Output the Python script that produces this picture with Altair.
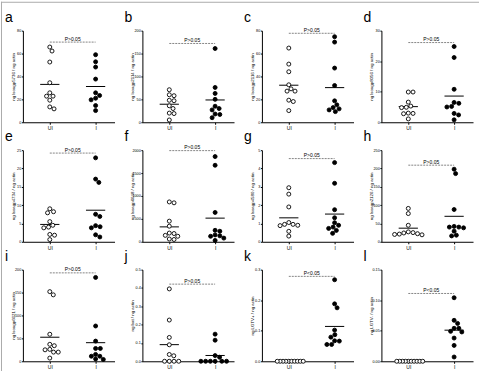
import altair as alt
import pandas as pd

FONT = "Liberation Sans"

letters = ["a", "b", "c", "d", "e", "f", "g", "h", "i", "j", "k", "l"]
y_titles = [
    "ng lsoagp5736 / ng actin", "ng lsoagp2114 / ng actin",
    "ng lsoagp2116 / ng actin", "ng lsoagp8056 / ng actin",
    "ng lsoagp4734 / ng actin", "ng lsoagp6648 / ng actin",
    "ng lsoagp4580 / ng actin", "ng lsoagp2126 / ng actin",
    "ng lsoagp6621 / ng actin", "ng bat / ng actin",
    "ng LGTV+ / ng actin", "ng LGTV- / ng actin",
]
groups = ["UI", "I"]

a_ui = [65.7, 62.2, 52.6, 34.5, 25.7, 22.8, 22.8, 19.3, 13.4, 11.7]
a_i = [59.0, 52.8, 48.2, 37.7, 25.7, 23.4, 21.0, 19.6, 14.6, 10.2]
b_ui = [71, 60, 58, 48, 47, 36, 30, 20, 19, 5]
b_i = [161, 76, 63, 50, 35, 30, 27, 18, 17, 10]
c_ui = [64.8, 50.8, 44.1, 32.7, 29.2, 27.2, 27.2, 19.3, 18.1, 10.2]
c_i = [74.7, 70.0, 47.3, 32.1, 18.7, 15.2, 12.8, 11.7, 10.8, 9.3]
d_ui = [9.9, 9.9, 6.6, 5.3, 4.9, 4.8, 3.0, 2.9, 2.8, 1.1]
d_i = [24.8, 21.2, 10.8, 6.5, 6.2, 5.2, 5.0, 2.9, 2.4, 0.8]
e_ui = [9.0, 8.2, 7.9, 5.5, 4.5, 4.0, 3.8, 2.0, 1.8, 0.6]
e_i = [22.9, 17.1, 16.2, 7.5, 6.9, 4.4, 4.1, 3.8, 1.9, 1.3]
f_ui = [870, 850, 450, 340, 190, 180, 140, 120, 60, 50]
f_i = [1860, 1670, 640, 250, 230, 150, 130, 120, 80, 30]
g_ui = [2.95, 2.6, 1.9, 1.05, 0.95, 0.95, 0.9, 0.88, 0.57, 0.31]
g_i = [4.32, 3.19, 1.75, 1.31, 1.04, 0.9, 0.8, 0.73, 0.62, 0.46]
h_ui = [91, 77, 45, 27, 25, 24, 22, 21, 20, 19]
h_i = [198, 186, 88, 42, 40, 40, 38, 29, 18, 16]
i_ui = [152, 145, 59, 37, 34, 26, 25, 20, 20, 7]
i_i = [183, 77, 44, 28, 28, 15, 11, 11, 5, 4]
j_ui = [0.395, 0.225, 0.13, 0.09, 0.037, 0.03, 0.0, 0.0, 0.0, 0.0]
j_i = [0.148, 0.115, 0.031, 0.022, 0.0, 0.0, 0.0, 0.0, 0.0, 0.0]
k_ui = [0.0, 0.0, 0.0, 0.0, 0.0, 0.0, 0.0, 0.0, 0.0, 0.0]
k_i = [0.267, 0.188, 0.175, 0.102, 0.087, 0.079, 0.067, 0.066, 0.055, 0.055]
l_ui = [0.0, 0.0, 0.0, 0.0, 0.0, 0.0, 0.0, 0.0, 0.0, 0.0]
l_i = [0.104, 0.067, 0.062, 0.054, 0.054, 0.049, 0.048, 0.038, 0.026, 0.007]

series_ui = [a_ui, b_ui, c_ui, d_ui, e_ui, f_ui, g_ui, h_ui, i_ui, j_ui, k_ui, l_ui]
series_i = [a_i, b_i, c_i, d_i, e_i, f_i, g_i, h_i, i_i, j_i, k_i, l_i]

y_max = [80, 200, 80, 30, 25, 2000, 5, 250, 200, 0.5, 0.3, 0.15]
y_ticks = [
    [0, 20, 40, 60, 80], [0, 50, 100, 150, 200], [0, 20, 40, 60, 80],
    [0, 10, 20, 30], [0, 5, 10, 15, 20, 25], [0, 500, 1000, 1500, 2000],
    [0, 1, 2, 3, 4, 5], [0, 50, 100, 150, 200, 250], [0, 50, 100, 150, 200],
    [0.0, 0.1, 0.2, 0.3, 0.4, 0.5], [0.0, 0.1, 0.2, 0.3], [0.0, 0.05, 0.10, 0.15],
]
y_formats = ["d", "d", "d", "d", "d", "d", "d", "d", "d", ".1f", ".1f", ".2f"]
p_level = [70, 172, 77.7, 26.1, 24.2, 1990, 4.54, 209, 193, 0.421, 0.278, 0.111]
p_text = ["P>0.05"] * 10 + ["P<0.05"] * 2

W = 92
H = 92
PX_PER_UNIT = 46.0


def swarm(vals, ymax, d=4.6, step=0.25, limit=14.5):
    order = sorted(range(len(vals)), key=lambda n: -vals[n])
    placed = []
    offs = [0.0] * len(vals)
    for n in order:
        y = vals[n] / ymax * H
        k = 0
        chosen = None
        while chosen is None:
            cands = [0.0] if k == 0 else [k * step, -k * step]
            for c in cands:
                if all((c - px) ** 2 + (y - py) ** 2 >= d * d for px, py in placed):
                    chosen = c
                    break
            k += 1
        placed.append((chosen, y))
        offs[n] = chosen
    m = max(abs(o) for o in offs)
    s = min(1.0, limit / m) if m > 0 else 1.0
    return [o * s / PX_PER_UNIT for o in offs]


def panel(idx):
    rows = []
    for gx, (gname, vals) in enumerate(zip(groups, [series_ui[idx], series_i[idx]])):
        offs = swarm(vals, y_max[idx])
        for v, o in zip(vals, offs):
            rows.append({"grp": gname, "gx": gx, "value": v, "xpos": gx + o})
    df = pd.DataFrame(rows)

    xs = alt.Scale(domain=[-0.587, 1.413], nice=False, zero=False)
    ys = alt.Scale(domain=[0, y_max[idx]], nice=False, zero=True)
    x_axis = alt.Axis(values=[0, 1], labelExpr="datum.value == 0 ? 'UI' : 'I'",
                      title=None, grid=False, tickSize=2, labelFontSize=5,
                      labelPadding=1.5, labelFlush=False, labelOverlap=False)
    y_axis = alt.Axis(values=y_ticks[idx], format=y_formats[idx], title=y_titles[idx],
                      grid=False, tickSize=1.5, labelFontSize=3.8, labelPadding=0.6,
                      titleFontSize=4.4, titleFontWeight="normal", titleX=-9.5,
                      titleBaseline="middle", labelFlush=False, labelOverlap=False)

    def xe(field):
        return alt.X(field, type="quantitative", scale=xs, axis=x_axis)

    def ye(field):
        return alt.Y(field, type="quantitative", scale=ys, axis=y_axis)

    base = alt.Chart(df)
    means = base.transform_aggregate(
        m="mean(value)", groupby=["gx"]
    ).transform_calculate(
        x0="datum.gx - 0.21", x1="datum.gx + 0.21"
    ).mark_rule(color="black", strokeWidth=1).encode(
        x=xe("x0"), x2="x1:Q", y=ye("m")
    )
    pts = base.mark_circle(size=16, stroke="black", strokeWidth=0.9, opacity=1).encode(
        x=xe("xpos"), y=ye("value"),
        fill=alt.Fill("grp:N", scale=alt.Scale(domain=groups, range=["white", "black"]),
                      legend=None),
    )
    pdf = pd.DataFrame({"x0": [0], "x1": [1], "xm": [0.5], "y": [p_level[idx]],
                        "label": [p_text[idx]], "letter": [letters[idx]]})
    pbase = alt.Chart(pdf)
    pline = pbase.mark_rule(color="#666666", strokeWidth=0.8, strokeDash=[2, 1]).encode(
        x=xe("x0"), x2="x1:Q", y=ye("y")
    )
    ptxt = pbase.mark_text(fontSize=5, font=FONT, baseline="alphabetic", dy=-1.5,
                           color="black").encode(
        x=xe("xm"), y=ye("y"), text="label:N"
    )
    letter = pbase.mark_text(fontSize=14, font=FONT, align="left", baseline="alphabetic",
                             color="black").encode(
        x=alt.value(-18), y=alt.value(-9), text="letter:N"
    )
    layers = [means, pts, pline, ptxt, letter]
    if idx == 0:
        # thin figure frame along the top and left edges
        top_edge = pbase.mark_rule(color="#aaaaaa", strokeWidth=1).encode(
            x=alt.value(-22), x2=alt.value(458), y=alt.value(-28.5)
        )
        left_edge = pbase.mark_rule(color="#aaaaaa", strokeWidth=1).encode(
            x=alt.value(-21.5), y=alt.value(-29), y2=alt.value(342)
        )
        layers += [top_edge, left_edge]
    return alt.layer(*layers).properties(width=W, height=H)


chart = alt.concat(*[panel(n) for n in range(12)], columns=4, spacing=28).properties(
    bounds="flush",
    padding={"left": 0, "top": 0, "right": 0, "bottom": 0},
).configure_view(strokeWidth=0).configure_axis(
    domainColor="black", tickColor="black", domainWidth=1, tickWidth=1,
    labelColor="black", titleColor="black", labelFont=FONT, titleFont=FONT,
)

chart.save("out.html", embed_options={"renderer": "svg", "actions": False})
